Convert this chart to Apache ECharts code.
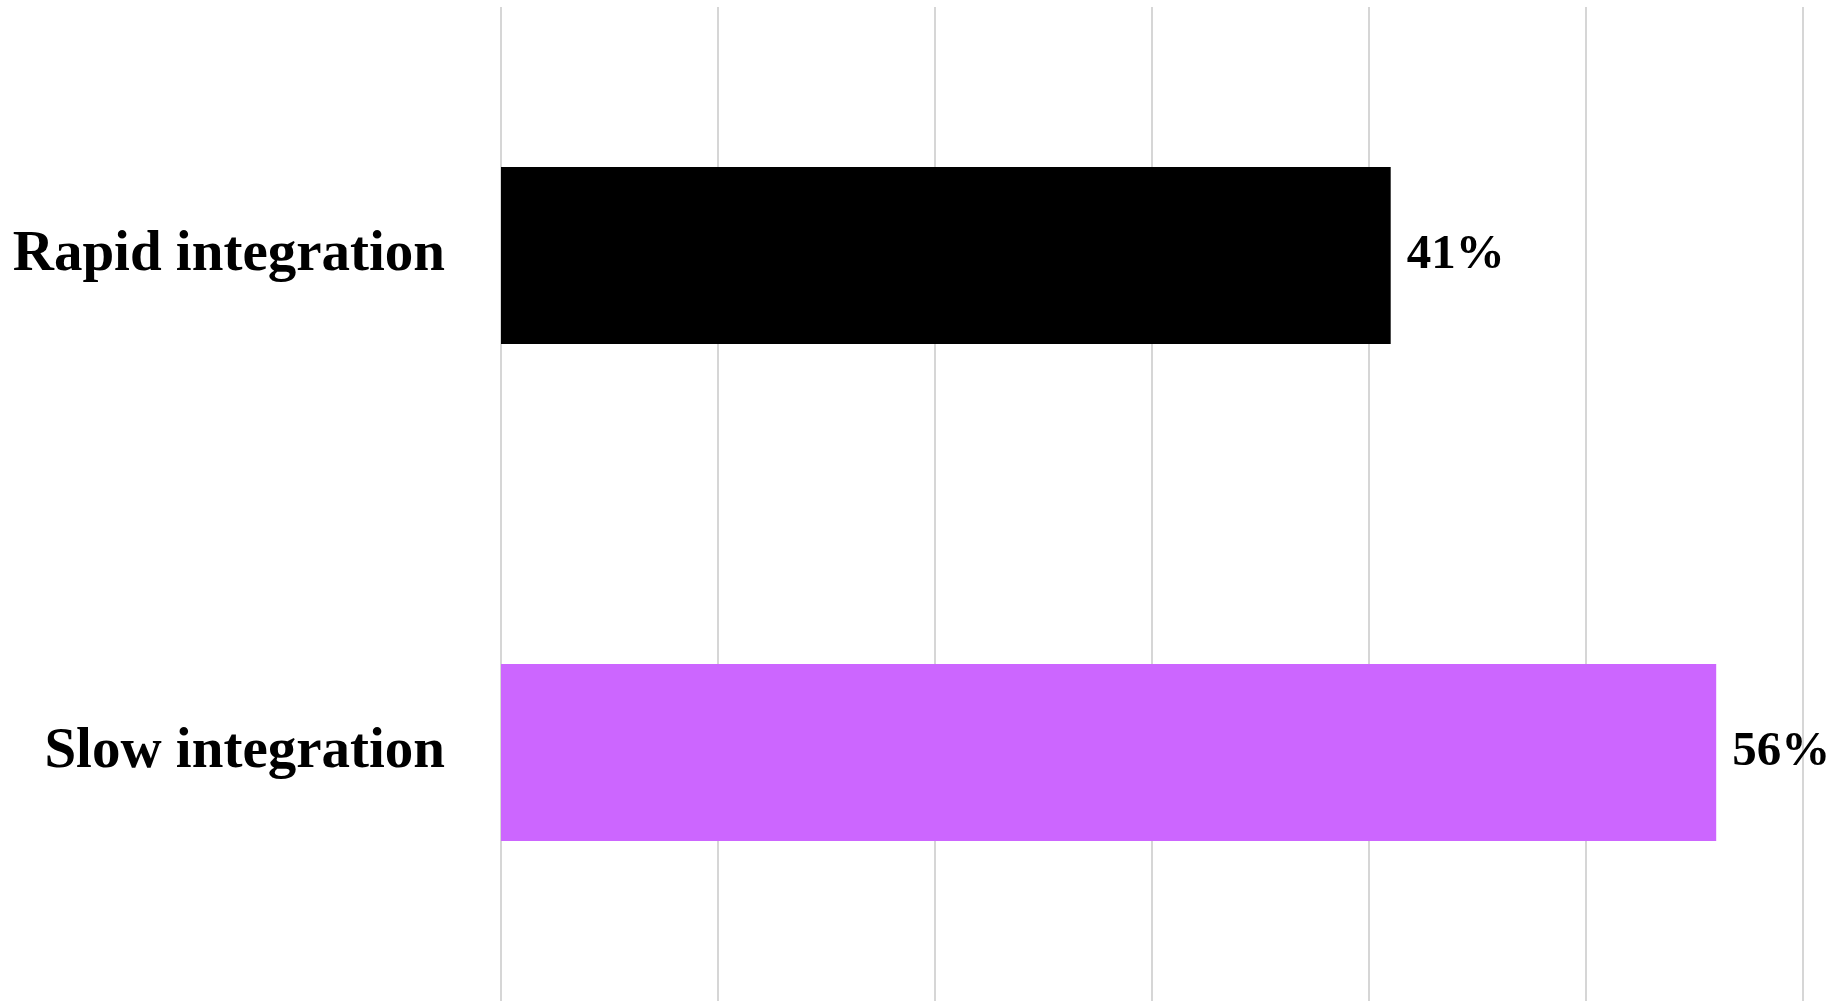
<!DOCTYPE html>
<html><head><meta charset="utf-8">
<script src="https://cdn.jsdelivr.net/npm/echarts@6/dist/echarts.min.js"></script>
<style>html,body{margin:0;padding:0;background:#fff}#c{width:1841px;height:1001px}</style>
</head><body><div id="c"></div>
<script>
const categories = ["Rapid integration", "Slow integration"];
const values = [41, 56];
const barColors = ["#000000", "#cc66ff"];
const chart = echarts.init(document.getElementById('c'));
chart.setOption({
  animation: false,
  backgroundColor: '#ffffff',
  grid: {left: 501, right: 38, top: 7, bottom: 0, containLabel: false},
  xAxis: {
    type: 'value', min: 0, max: 60, interval: 10,
    axisLabel: {show: false}, axisLine: {show: false}, axisTick: {show: false},
    splitLine: {show: true, lineStyle: {color: '#d6d6d6', width: 2}}
  },
  yAxis: {
    type: 'category', data: categories, inverse: true,
    axisLine: {show: false}, axisTick: {show: false},
    axisLabel: {margin: 56, fontSize: 57, fontWeight: 'bold', fontFamily: '"Liberation Serif", serif', color: '#000'}
  },
  series: [{
    type: 'bar', barWidth: '35.6%',
    data: values.map((v, i) => ({value: v, itemStyle: {color: barColors[i]}})),
    label: {show: true, position: 'right', distance: 16, formatter: '{c}%', fontSize: 49, fontWeight: 'bold', fontFamily: '"Liberation Serif", serif', color: '#000'}
  }]
});
</script></body></html>
